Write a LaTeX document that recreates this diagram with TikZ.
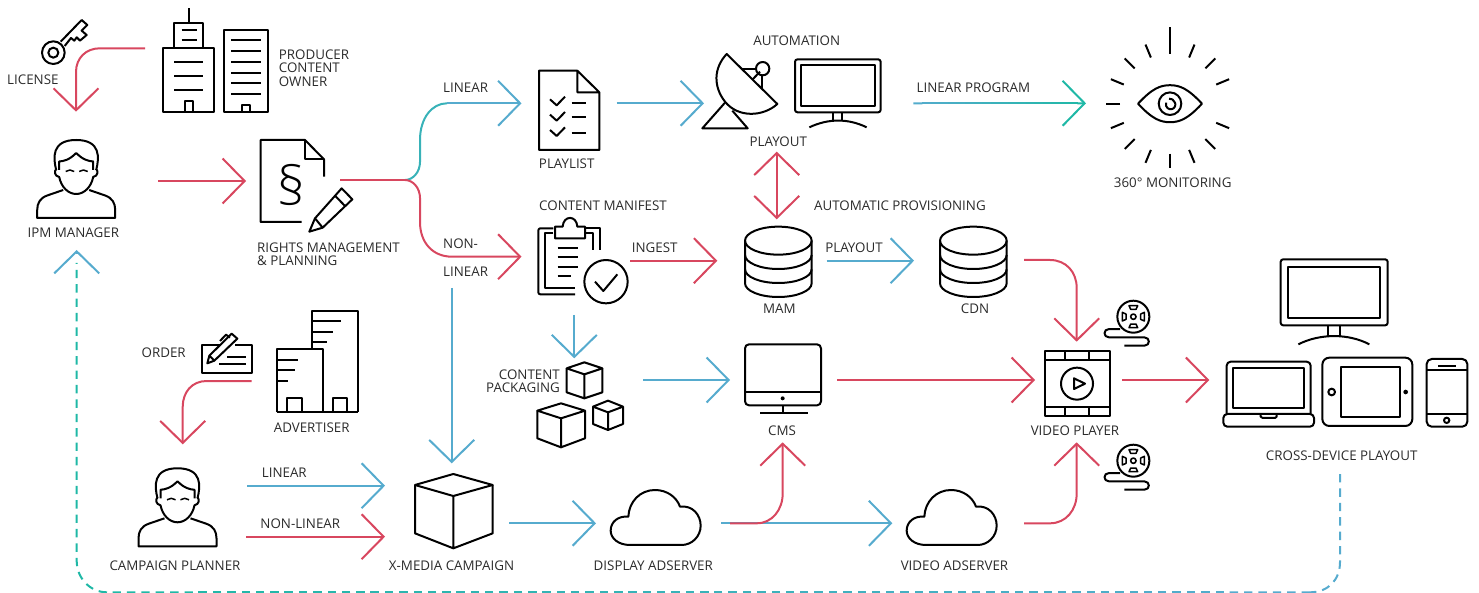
\documentclass[tikz,border=0pt]{standalone}
\usepackage{fontspec}
\setmainfont{Open Sans}
\newfontfamily\secfont{Open Sans Light}
\usetikzlibrary{arrows.meta,calc}
\definecolor{mred}{HTML}{D8475F}
\definecolor{mblue}{HTML}{56ABCE}
\definecolor{mteal}{HTML}{1FB8A6}
\definecolor{mtext}{HTML}{2B2B2B}
\tikzset{
  zm/.style 2 args={xshift=#1pt,yshift=-#2pt,x=0.33333pt,y=-0.33333pt},
  ic/.style={draw=black,line width=2pt,line join=round},
  con/.style={line width=2pt,-{Straight Barb[length=22pt,width=45pt]}},
  conb/.style={line width=2pt},
  lbl/.style={inner sep=0pt,text=mtext,font=\fontsize{13.35}{13.35}\selectfont,text height=9.6pt,text depth=0pt,yshift=-0.8pt},
  mlbl/.style={inner sep=0pt,text=mtext,font=\fontsize{13.35}{13.35}\selectfont,anchor=north west,align=left},
  dsh/.style={line width=2pt,dash pattern=on 8.4pt off 6pt},
}
\newcommand{\personicon}[2]{%
\begin{scope}[xshift=#1pt,yshift=-#2pt,ic]
 \draw (-20,30) .. controls (-23,18) and (-25,0) .. (0,0) .. controls (25,0) and (23,18) .. (20,30);
 \draw (-17,30) -- (-17,21.5) .. controls (-12,21) and (-7,20) .. (0,13) .. controls (7,20) and (12,21) .. (17,21.5) -- (17,30);
 \draw (-20,29) .. controls (-22,31) and (-22,36) .. (-17,37) .. controls (-15,47) and (-8,54) .. (0,54) .. controls (8,54) and (15,47) .. (17,37) .. controls (22,36) and (22,31) .. (20,29);
 \draw (-13,50) -- (-29,55.5) .. controls (-36,58) and (-39,63) .. (-39,70) -- (-39,78) -- (39,78) -- (39,70) .. controls (39,63) and (36,58) .. (29,55.5) -- (13,50);
 \draw[line width=1.5pt] (-10.5,31.5) .. controls (-8,29.5) and (-4.5,29.5) .. (-2,31.5);
 \draw[line width=1.5pt] (3,31.5) .. controls (5.5,29.5) and (9,29.5) .. (11.5,31.5);
\end{scope}}
\newcommand{\dbicon}[2]{% zoom-8 coordinates, shifted
\begin{scope}[zm={#1}{#2},ic]
 \draw (130,62) ellipse [x radius=100,y radius=42];
 \draw (30,62) -- (30,190) arc[start angle=180,end angle=0,x radius=100,y radius=41] -- (230,62);
 \draw (30,105) arc[start angle=180,end angle=0,x radius=100,y radius=42];
 \draw (30,148) arc[start angle=180,end angle=0,x radius=100,y radius=41];
\end{scope}}
\newcommand{\cubeicon}[8]{%
 \draw[ic] (#1,#5) -- (#2,#4) -- (#3,#5) -- (#2,#6) -- cycle;
 \draw[ic] (#1,#5) -- (#1,#7) -- (#2,#8) -- (#3,#7) -- (#3,#5) (#2,#6) -- (#2,#8);}
\newcommand{\reelicon}[2]{%
\begin{scope}[zm={#1}{#2},ic]
 \draw (115,60) circle[radius=48];
 \draw[line width=1.6pt] (115,60) circle[radius=8];
 \foreach \a in {0,90,180,270}{
  \draw[rotate around={\a:(115,60)},line width=1.5pt] (102,27) -- (128,27) -- (123,38) -- (107,38) -- cycle;
 }
 \draw (75,97) -- (42,97) .. controls (24,97) and (24,122) .. (42,122) -- (148,122) .. controls (166,122) and (166,147) .. (148,147) -- (88,147);
\end{scope}}
\newcommand{\cloudicon}[2]{%
\begin{scope}[zm={#1}{#2},ic]
 \draw (445,680) .. controls (447,635) and (480,600) .. (525,600) .. controls (562,600) and (590,622) .. (600,650) .. controls (638,645) and (662,675) .. (662,707) .. controls (662,740) and (635,765) .. (605,765) -- (450,765) .. controls (415,765) and (392,745) .. (392,722) .. controls (392,695) and (415,677) .. (445,680) -- cycle;
\end{scope}}
\begin{document}
\begin{tikzpicture}[x=1pt,y=-1pt]
\useasboundingbox (0,0) rectangle (1479,593);

%% ---------- icons ----------
% key
\begin{scope}[zm={30}{10},ic]
 \draw (70,128) circle[radius=34];
 \draw (70,128) circle[radius=15];
 \draw (92,95) -- (155,30) -- (172,45) -- (155,62) -- (170,75) -- (150,92) -- (140,82) -- (133,92) -- (123,84) -- (104,108);
\end{scope}
% producer buildings
\begin{scope}[zm={0}{0},ic]
 \draw (566,25) -- (566,68);
 \draw (522,143) -- (522,68) -- (610,68) -- (610,143);
 \draw (545,90) -- (590,90) (545,121) -- (590,121);
 \draw (490,143) rectangle (642,336);
 \draw (522,185) -- (610,185) (522,228) -- (610,228) (522,271) -- (610,271);
 \draw (555,336) -- (555,303) -- (578,303) -- (578,336);
 \draw (673,90) rectangle (803,336);
 \foreach \y in {121,153,185,218,250,282} \draw (693,\y) -- (783,\y);
 \draw (727,336) -- (727,315) -- (750,315) -- (750,336);
\end{scope}
\personicon{76.2}{140}
% rights document
\begin{scope}[zm={0}{0},ic]
 \draw (905,666) -- (782,666) -- (782,420) -- (915,420) -- (972,478) -- (972,530);
 \draw (915,420) -- (915,478) -- (972,478);
 \draw (945,655) -- (1025,565) -- (1057,598) -- (968,683) -- (928,695) -- cycle;
 \draw (1005,587) -- (1036,619);
 \draw (945,655) -- (968,683);
\end{scope}
\node[inner sep=0pt,font=\secfont\fontsize{54}{54}\selectfont,text=black] (sectionmark) at (291,185) {§};
% playlist
\begin{scope}[zm={500}{0},ic]
 \draw (232,212) -- (117,212) -- (117,450) -- (298,450) -- (298,277) -- (232,212) -- (232,277) -- (298,277);
 \foreach \y in {0,46,92}{
  \draw (150,298+\y) -- (170,316+\y) -- (195,290+\y);
 }
 \draw (215,310) -- (258,310) (215,352) -- (258,352) (215,400) -- (258,400);
\end{scope}
% satellite dish
\begin{scope}[zm={500}{0},ic]
 \draw (675,308) -- (607,385) -- (743,385) -- (697,332);
 \draw (680,162) -- (832,312) .. controls (790,350) and (715,355) .. (675,305) .. controls (640,260) and (640,205) .. (680,162) -- cycle;
 \draw (725,208) -- (768,208);
 \draw (758,238) -- (780,215);
 \draw (787,226) -- (787,266);
 \draw (788,206) circle[radius=20];
\end{scope}
% automation monitor
\begin{scope}[zm={500}{0},ic]
 \draw[rounded corners=2.5pt] (885,178) rectangle (1142,337);
 \draw (904,196) rectangle (1125,319);
 \draw (1000,337) -- (1000,362) (1027,337) -- (1027,362);
 \draw (928,382) .. controls (985,355) and (1045,355) .. (1100,382);
\end{scope}
% eye
\begin{scope}[xshift=1170pt,yshift=-103.7pt,ic]
 \foreach \a in {22.5,45,...,337.5}{
  \draw (\a:50) -- (\a:64);
 }
 \draw (0,-50) -- (0,-77);
 \draw (-32,0) .. controls (-18,-15) and (-10,-18.5) .. (0,-18.5) .. controls (10,-18.5) and (18,-15) .. (32,0) .. controls (18,15) and (10,18.5) .. (0,18.5) .. controls (-10,18.5) and (-18,15) .. (-32,0) -- cycle;
 \draw (0,0) circle[radius=11.3];
 \draw (-4,-1) .. controls (-5,4) and (-1,6) .. (1.5,5.5) .. controls (5,5) and (6,1) .. (5,-1) .. controls (4,-4) and (1,-5.5) .. (-1,-5);
\end{scope}
% clipboard
\begin{scope}[zm={530}{215},ic]
 \draw[rounded corners=2pt] (70,40) -- (25,40) -- (25,238) -- (135,238);
 \draw (70,55) -- (45,55) -- (45,218) -- (135,218);
 \draw (165,40) -- (210,40) -- (210,105);
 \draw (165,55) -- (190,55) -- (190,105);
 \draw (75,70) -- (75,35) -- (98,35) .. controls (100,0) and (140,0) .. (142,35) -- (165,35) -- (165,70) -- cycle;
 \draw (83,100) -- (145,100) (83,127) -- (145,127) (83,155) -- (145,155) (83,183) -- (122,183);
 \draw (228,200) circle[radius=65];
 \draw (195,200) -- (220,228) -- (262,178);
\end{scope}
% databases
\dbicon{735}{220}
\dbicon{930}{220}
% advertiser
\begin{scope}[zm={0}{290},ic]
 \draw (935,178) -- (935,62) -- (1073,62) -- (1073,367);
 \draw (935,93) -- (1022,93) (935,125) -- (1000,125) (935,157) -- (980,157);
 \draw (830,367) -- (830,178) -- (968,178) -- (968,367);
 \draw (830,367) -- (1073,367);
 \draw (830,209) -- (895,209) (830,240) -- (885,240) (830,272) -- (865,272);
 \draw (862,367) -- (862,325) -- (905,325) -- (905,367);
 \draw (998,367) -- (998,325) -- (1042,325) -- (1042,367);
 \draw (660,165) -- (607,165) -- (607,248) -- (757,248) -- (757,165) -- (705,165);
 \draw (682,202) -- (737,202) (657,222) -- (737,222);
 \draw (622,220) -- (628,197) -- (695,131) -- (712,146) -- (643,212) -- cycle;
 \draw (628,197) -- (643,212);
 \draw (660,153) -- (678,134) -- (690,143);
\end{scope}
\personicon{177.5}{468.3}
% content packaging cubes
\begin{scope}[zm={480}{290}]
 \cubeicon{260}{313}{367}{217}{235}{253}{307}{325}
 \cubeicon{172}{243}{315}{340}{362}{385}{445}{472}
 \cubeicon{339}{384}{429}{332}{350}{367}{402}{420}
\end{scope}
% x-media cube
\begin{scope}[zm={0}{290}]
 \cubeicon{1245}{1360}{1478}{552}{585}{618}{730}{775}
\end{scope}
\cloudicon{480}{290}
\cloudicon{776}{290}
% CMS
\begin{scope}[zm={480}{290},ic]
 \draw[rounded corners=4pt] (795,163) rectangle (1023,346);
 \draw (795,305) -- (1023,305);
 \fill (908,325) circle[radius=6];
 \draw (908,346) -- (908,368);
 \draw (840,368) -- (985,368);
\end{scope}
% video player
\begin{scope}[zm={980}{290},ic]
 \draw (195,183) rectangle (390,378);
 \draw (195,210) -- (390,210) (195,352) -- (390,352);
 \draw (256,183) -- (256,210) (328,183) -- (328,210) (256,352) -- (256,378) (328,352) -- (328,378);
 \draw (291,281) circle[radius=48];
 \draw (282,265) -- (315,281) -- (282,297) -- cycle;
\end{scope}
\reelicon{1095}{296.7}
\reelicon{1095}{440.7}
% cross device
\begin{scope}[zm={980}{290},ic]
 \draw[rounded corners=2.5pt] (902,-92) rectangle (1223,106);
 \draw (923,-70) rectangle (1200,85);
 \draw (1045,106) -- (1045,138) (1080,106) -- (1080,138);
 \draw (955,163) .. controls (1020,130) and (1105,130) .. (1168,163);
 % laptop
 \draw[rounded corners=4pt] (740,372) -- (740,215) -- (992,215) -- (992,372);
 \draw (758,233) rectangle (973,355);
 \draw[rounded corners=4pt] (730,372) -- (730,410) -- (1002,410) -- (1002,372) -- cycle;
 \draw (842,372) -- (842,380) -- (848,384) -- (885,384) -- (890,380) -- (890,372);
 % tablet
 \draw[rounded corners=7pt] (1027,203) rectangle (1297,408);
 \draw (1082,232) rectangle (1260,380);
 \draw (1055,306) circle[radius=10];
 \fill (1277,306) circle[radius=7];
 % phone
 \draw[rounded corners=5pt] (1340,207) rectangle (1462,410);
 \draw (1340,241) -- (1462,241) (1340,373) -- (1462,373);
 \draw (1375,228) -- (1427,228);
 \draw (1400,391) circle[radius=8];
\end{scope}

%% ---------- labels ----------
\node[lbl,anchor=west] (tLicense) at (7,79) {LICENSE};
\node[mlbl] (tProducer) at (278.7,49.5) {PRODUCER\\CONTENT\\OWNER};
\node[lbl] (tIpm) at (73.3,232) {IPM MANAGER};
\node[mlbl,font=\fontsize{13.35}{13}\selectfont] (tRights) at (257,242.2) {RIGHTS MANAGEMENT\\\& PLANNING};
\node[lbl,anchor=west] (tLinearTop) at (443,87) {LINEAR};
\node[mlbl] (tNonLinear) at (443,238.2) {NON-\\[14.6pt]LINEAR};
\node[lbl] (tPlaylist) at (566.7,163) {PLAYLIST};
\node[lbl] (tAutomation) at (796.7,40) {AUTOMATION};
\node[lbl] (tPlayoutA) at (778.3,141) {PLAYOUT};
\node[lbl,anchor=west] (tLinProg) at (916.5,87) {LINEAR PROGRAM};
\node[lbl] (tMonitoring) at (1172.7,182.3) {360° MONITORING};
\node[lbl,anchor=west] (tManifest) at (539,205) {CONTENT MANIFEST};
\node[lbl,anchor=west] (tProvision) at (814,205) {AUTOMATIC PROVISIONING};
\node[lbl] (tIngest) at (654.7,247) {INGEST};
\node[lbl] (tPlayoutB) at (854,247) {PLAYOUT};
\node[lbl] (tMam) at (779.3,308.3) {MAM};
\node[lbl] (tCdn) at (975,308.3) {CDN};
\node[lbl] (tOrder) at (163.7,352.3) {ORDER};
\node[lbl] (tAdvertiser) at (311.7,427.3) {ADVERTISER};
\node[inner sep=0pt,text=mtext,font=\fontsize{13.35}{13}\selectfont,anchor=north east,align=right] (tPackaging) at (560,369.5) {CONTENT\\PACKAGING};
\node[lbl] (tCms) at (782,430.3) {CMS};
\node[lbl] (tPlayer) at (1075,430.3) {VIDEO PLAYER};
\node[lbl] (tCross) at (1341.7,455.3) {CROSS-DEVICE PLAYOUT};
\node[lbl] (tLinearLow) at (284.3,472.3) {LINEAR};
\node[lbl] (tNonLow) at (300.3,523.3) {NON-LINEAR};
\node[lbl] (tCampaign) at (175,565.3) {CAMPAIGN PLANNER};
\node[lbl] (tMedia) at (451.5,565.3) {X-MEDIA CAMPAIGN};
\node[lbl] (tDisplay) at (653.3,565.3) {DISPLAY ADSERVER};
\node[lbl] (tVideo) at (954.5,565.3) {VIDEO ADSERVER};

%% ---------- connector ends ----------
\coordinate (prodOut) at (145,48.3);
\coordinate (ipmIn) at (76,111.7);
\coordinate (ipmOut) at (158,181);
\coordinate (rightsIn) at (246,181);
\coordinate (rightsOut) at (340,180);
\coordinate (fork) at (405,180);
\coordinate (playlistIn) at (521.5,103.3);
\coordinate (manifestIn) at (521.5,256.7);
\coordinate (playlistOut) at (616.7,103.3);
\coordinate (dishIn) at (704,103.3);
\coordinate (progOut) at (913.3,103.3);
\coordinate (eyeIn) at (1086,103.3);
\coordinate (dishDown) at (776.7,151.7);
\coordinate (mamUp) at (776.7,219.3);
\coordinate (manifestOut) at (630,260.7);
\coordinate (mamIn) at (717.3,260.7);
\coordinate (mamOut) at (826.7,260.7);
\coordinate (cdnIn) at (914,260.7);
\coordinate (cdnOut) at (1024,260);
\coordinate (playerTop) at (1076.7,341.7);
\coordinate (manifestDown) at (574.3,315);
\coordinate (packIn) at (574.3,358.3);
\coordinate (packOut) at (643.3,380);
\coordinate (cmsIn) at (730,380);
\coordinate (cmsOut) at (837.3,380);
\coordinate (playerIn) at (1035,380);
\coordinate (playerOut) at (1122,380);
\coordinate (devIn) at (1209.3,380);
\coordinate (rightsDown) at (451.7,288);
\coordinate (mediaTop) at (451.7,463.3);
\coordinate (advOut) at (251.7,381);
\coordinate (plannerIn) at (182.7,444.3);
\coordinate (plannerLin) at (247,485.7);
\coordinate (mediaLin) at (385,485.7);
\coordinate (plannerNon) at (246,536.7);
\coordinate (mediaNon) at (385,536.7);
\coordinate (mediaOut) at (509,523.3);
\coordinate (displayIn) at (596,523.3);
\coordinate (displayOut) at (721,523.3);
\coordinate (displayRed) at (730,523.3);
\coordinate (videoIn) at (892.3,523.3);
\coordinate (cmsBelow) at (782.7,442.3);
\coordinate (videoOut) at (1024,523.3);
\coordinate (playerBelow) at (1076.7,442.3);
\coordinate (devDash) at (1340,474);
\coordinate (dashR) at (1310,592.3);
\coordinate (dashL) at (107,592.3);
\coordinate (dashUp) at (76.7,263);
\coordinate (ipmBelow) at (76.7,250);
\coordinate (ipmBelowB) at (76.7,254);

%% ---------- connectors ----------
\draw[con,mred] (prodOut) -- (100,48.3) .. controls (86,48.3) and (76,58) .. (76,72) -- (ipmIn);
\draw[con,mred] (ipmOut) -- (rightsIn);
\draw[conb,mred] (rightsOut) -- (fork);
\draw[conb,mblue!45!mteal] (fork) .. controls (413,180) and (420,172) .. (420,162) -- (420,140) .. controls (420,118) and (432,103.3) .. (447,103.3);
\draw[con,mblue] (447,103.3) -- (playlistIn);
\draw[con,mred] (fork) .. controls (413,180) and (420,188) .. (420,198) -- (420,222) .. controls (420,243) and (433,256.7) .. (452,256.7) -- (manifestIn);
\draw[con,mblue] (playlistOut) -- (dishIn);
\foreach \i in {1,...,19}{
  \pgfmathsetmacro{\pa}{(\i-1)/20}\pgfmathsetmacro{\pb}{\i/20+0.003}\pgfmathsetmacro{\pc}{100-5*\i}
  \draw[conb,mblue!\pc!mteal] ($(progOut)!\pa!(eyeIn)$) -- ($(progOut)!\pb!(eyeIn)$);
}
\draw[con,mteal] ($(progOut)!0.95!(eyeIn)$) -- (eyeIn);
\draw[line width=2pt,mred,{Straight Barb[length=22pt,width=45pt]}-{Straight Barb[length=22pt,width=45pt]}] (dishDown) -- (mamUp);
\draw[con,mred] (manifestOut) -- (mamIn);
\draw[con,mblue] (mamOut) -- (cdnIn);
\draw[con,mred] (cdnOut) -- (1050,260) .. controls (1066,260) and (1076.7,272) .. (1076.7,288) -- (playerTop);
\draw[con,mblue] (manifestDown) -- (packIn);
\draw[con,mblue] (packOut) -- (cmsIn);
\draw[con,mred] (cmsOut) -- (playerIn);
\draw[con,mred] (playerOut) -- (devIn);
\draw[con,mblue] (rightsDown) -- (mediaTop);
\draw[con,mred] (advOut) -- (206.7,381) .. controls (192,381) and (182.7,392) .. (182.7,407) -- (plannerIn);
\draw[con,mblue] (plannerLin) -- (mediaLin);
\draw[con,mred] (plannerNon) -- (mediaNon);
\draw[con,mblue] (mediaOut) -- (displayIn);
\draw[con,mblue] (displayOut) -- (videoIn);
\draw[con,mred] (displayRed) -- (756.7,523.3) .. controls (772,523.3) and (782.7,510) .. (782.7,493.3) -- (cmsBelow);
\draw[con,mred] (videoOut) -- (1050,523.3) .. controls (1066,523.3) and (1076.7,510) .. (1076.7,493.3) -- (playerBelow);
% dashed return line, blue at the devices and teal at the manager
\draw[dsh,mblue] (devDash) -- (1340,562) .. controls (1340,580) and (1328,592.3) .. (dashR);
\foreach \i in {1,...,14}{
  \pgfmathsetmacro{\pa}{(\i-1)/14}\pgfmathsetmacro{\pb}{\i/14}\pgfmathsetmacro{\pc}{100-100*(\i-1)/13}
  \draw[dsh,mblue!\pc!mteal] ($(dashR)!\pa!(dashL)$) -- ($(dashR)!\pb!(dashL)$);
}
\draw[dsh,mteal] (dashL) .. controls (90,592.3) and (76.7,578) .. (76.7,561) -- (dashUp);
\draw[con,mblue] (ipmBelowB) -- (ipmBelow);
\end{tikzpicture}
\end{document}
